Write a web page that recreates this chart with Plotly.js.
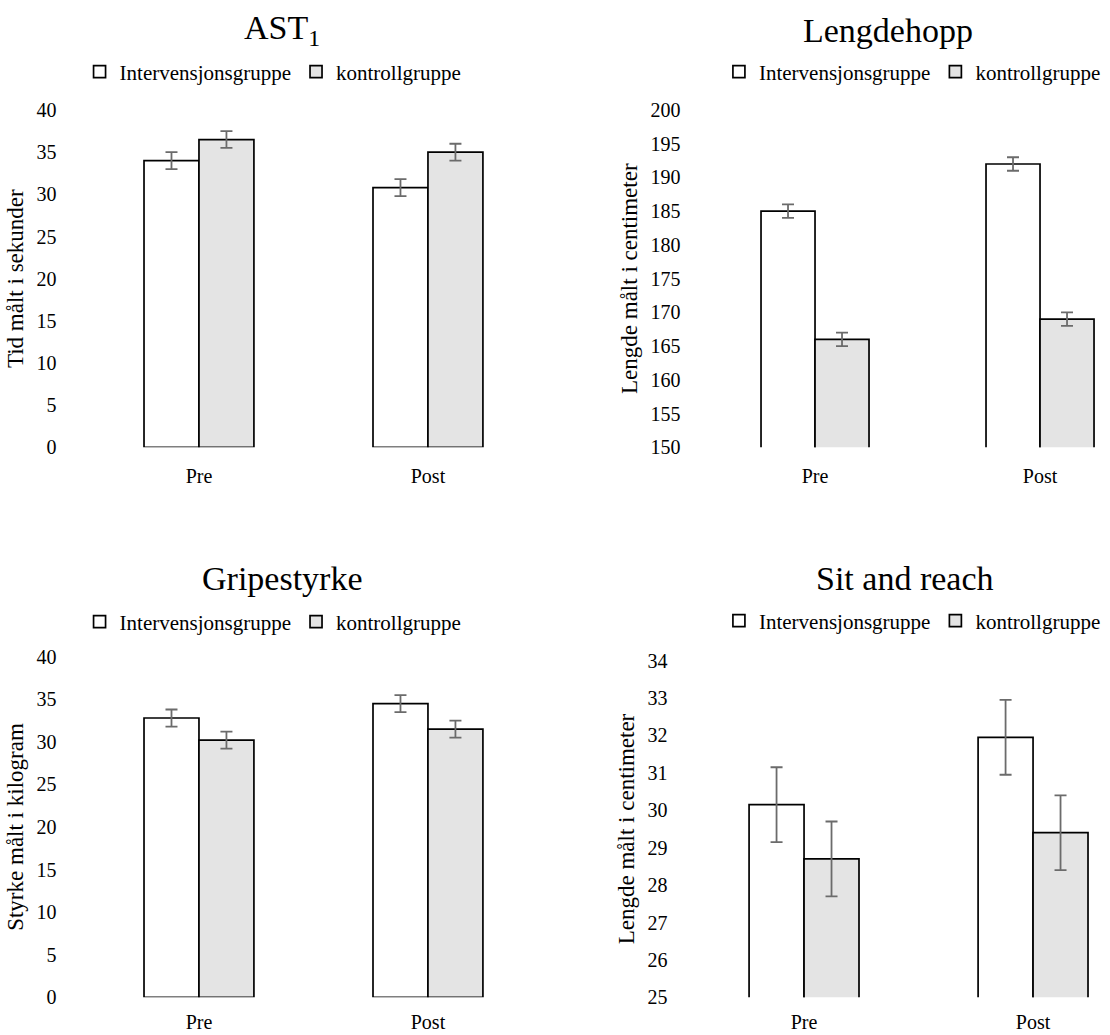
<!DOCTYPE html>
<html><head><meta charset="utf-8">
<script src="https://cdn.plot.ly/plotly-3.0.1.min.js"></script>
<style>html,body{margin:0;padding:0;background:#fff}</style>
</head><body><div id="chart" style="width:1110px;height:1035px"></div>
<script>
const categories = ["Pre", "Post"];
const seriesNames = ["Intervensjonsgruppe", "kontrollgruppe"];

const astIntervention = [34.0, 30.8];
const astControl = [36.5, 35.0];
const astInterventionErr = [1.0, 1.0];
const astControlErr = [1.0, 1.0];

const hoppIntervention = [185, 192];
const hoppControl = [166, 169];
const hoppInterventionErr = [1.0, 1.0];
const hoppControlErr = [1.0, 1.0];

const gripIntervention = [32.8, 34.5];
const gripControl = [30.2, 31.5];
const gripInterventionErr = [1.0, 1.0];
const gripControlErr = [1.0, 1.0];

const sitIntervention = [30.15, 31.95];
const sitControl = [28.7, 29.4];
const sitInterventionErr = [1.0, 1.0];
const sitControlErr = [1.0, 1.0];

const panelTitles = ["AST<sub>1</sub>", "Lengdehopp", "Gripestyrke", "Sit and reach"];
const yTitles = ["Tid målt i sekunder", "Lengde målt i centimeter", "Styrke målt i kilogram", "Lengde målt i centimeter"];

const FONT = "Liberation Serif, Times New Roman, serif";
const fills = ["#ffffff", "#e4e4e4"];

function pair(idx, intv, ctrl, intvErr, ctrlErr) {
  const ax = idx === 1 ? "" : String(idx);
  const leg = idx === 1 ? "legend" : "legend" + idx;
  const vals = [intv, ctrl];
  const errs = [intvErr, ctrlErr];
  return [0, 1].map(k => ({
    type: "bar",
    x: categories,
    y: vals[k],
    name: seriesNames[k],
    xaxis: "x" + ax,
    yaxis: "y" + ax,
    legend: leg,
    marker: {color: fills[k], line: {color: "#000000", width: 1.7}},
    error_y: {type: "data", array: errs[k], visible: true, color: "#6b6b6b", thickness: 1.8, width: 6},
    hoverinfo: "x+y"
  }));
}

const data = [].concat(
  pair(1, astIntervention, astControl, astInterventionErr, astControlErr),
  pair(2, hoppIntervention, hoppControl, hoppInterventionErr, hoppControlErr),
  pair(3, gripIntervention, gripControl, gripInterventionErr, gripControlErr),
  pair(4, sitIntervention, sitControl, sitInterventionErr, sitControlErr)
);

function xAxis(domain, range, anchor, standoff) {
  return {domain, range, anchor, type: "category", showline: false, showgrid: false, zeroline: false,
    ticks: "", ticklabelstandoff: standoff, tickfont: {family: FONT, size: 20, color: "#000"}, fixedrange: true};
}
function yAxis(domain, range, dtick, anchor, title, standoff) {
  return {domain, range, dtick, anchor, showline: false, showgrid: false, zeroline: false,
    ticks: "", ticklabelstandoff: standoff, tickfont: {family: FONT, size: 20, color: "#000"},
    title: {text: title, font: {family: FONT, size: 23, color: "#000"}, standoff: 6}, fixedrange: true};
}
function legendAt(x, y) {
  return {orientation: "h", x, y, xanchor: "center", yanchor: "middle", bgcolor: "rgba(0,0,0,0)",
    font: {family: FONT, size: 21, color: "#000"}, itemwidth: 30, traceorder: "normal"};
}
function titleAnn(text, x, y) {
  return {text, x, y, xref: "paper", yref: "paper", xanchor: "center", yanchor: "middle",
    showarrow: false, font: {family: FONT, size: 34, color: "#000"}};
}

const layout = {
  width: 1110, height: 1035,
  margin: {l: 0, r: 0, t: 0, b: 0},
  paper_bgcolor: "#ffffff", plot_bgcolor: "#ffffff",
  barmode: "group", bargap: 0.52, bargroupgap: 0,
  showlegend: true,
  xaxis: xAxis([0.0761, 0.4887], [-0.5, 1.5], "y", 15),
  yaxis: yAxis([0.5678, 0.8937], [0, 40], 5, "x", yTitles[0], 27),
  xaxis2: xAxis([0.6329, 1.0], [-0.5, 1.311], "y2", 15),
  yaxis2: yAxis([0.5678, 0.8937], [150, 200], 5, "x2", yTitles[1], 21),
  xaxis3: xAxis([0.0761, 0.4887], [-0.5, 1.5], "y3", 11),
  yaxis3: yAxis([0.0364, 0.3655], [0, 40], 5, "x3", yTitles[2], 27),
  xaxis4: xAxis([0.6212, 1.0], [-0.5, 1.336], "y4", 11),
  yaxis4: yAxis([0.0364, 0.3617], [25, 34], 1, "x4", yTitles[3], 21),
  legend: legendAt(0.246, 1 - 72 / 1035),
  legend2: legendAt(0.822, 1 - 72 / 1035),
  legend3: legendAt(0.246, 1 - 622 / 1035),
  legend4: legendAt(0.822, 1 - 621 / 1035),
  annotations: [
    titleAnn(panelTitles[0], 282 / 1110, 1 - 30 / 1035),
    titleAnn(panelTitles[1], 888 / 1110, 1 - 30 / 1035),
    titleAnn(panelTitles[2], 282 / 1110, 1 - 578 / 1035),
    titleAnn(panelTitles[3], 905 / 1110, 1 - 578 / 1035)
  ]
};

Plotly.newPlot("chart", data, layout, {displayModeBar: false, staticPlot: true});
</script>
</body></html>
